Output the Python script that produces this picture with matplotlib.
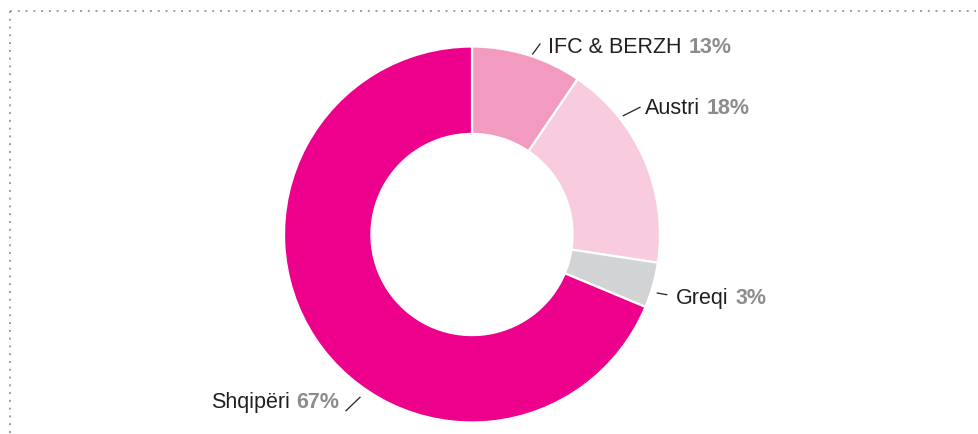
import matplotlib
matplotlib.use("Agg")
import matplotlib.pyplot as plt
from matplotlib.lines import Line2D

# Data
names = ["IFC & BERZH", "Austri", "Greqi", "Shqipëri"]
shares = [9.5, 17.9, 3.9, 68.7]          # slice sizes as drawn
pct_labels = ["13%", "18%", "3%", "67%"]  # printed percentages
colors = ["#F39AC1", "#F9CBDF", "#D1D3D4", "#EC008C"]

W, H = 979, 435
plt.rcParams['font.family'] = ['Liberation Sans', 'DejaVu Sans']

fig = plt.figure(figsize=(W / 100, H / 100), dpi=100)

def px(x, y):
    # pixel position (from top-left) -> figure fraction
    return x / W, 1 - y / H

# Donut
cx, cy, r = 472, 235.5, 188
ax = fig.add_axes([(cx - r) / W, (H - cy - r) / H, 2 * r / W, 2 * r / H])
ax.pie(shares, colors=colors, startangle=90, counterclock=False, radius=1,
       wedgeprops=dict(width=0.465, edgecolor='white', linewidth=1.6))
ax.set_xlim(-1, 1)
ax.set_ylim(-1, 1)
ax.set_aspect('equal')
ax.axis('off')

# Labels: (text x, baseline y, align, leader start, leader end)
label_pos = [
    (548, 53, 'left', (532.7, 55), (540, 45)),
    (645, 114, 'left', (623.3, 116.7), (640, 108.3)),
    (676, 304, 'left', (657.3, 294), (666.7, 295.7)),
    (339.5, 408.5, 'right', (346, 411.7), (360, 398.3)),
]
fs = 15.5
name_col = "#231F20"
pct_col = "#8A8C8E"
for name, pct, (tx, ty, ha, p0, p1) in zip(names, pct_labels, label_pos):
    fx, fy = px(tx, ty)
    if ha == 'left':
        t = fig.text(fx, fy, name, ha='left', va='baseline', fontsize=fs, color=name_col)
        plt.annotate(pct, xy=(1, 0), xycoords=t, xytext=(5, 0), textcoords='offset points',
                     ha='left', va='bottom', fontsize=fs, color=pct_col, fontweight='bold',
                     annotation_clip=False)
    else:
        t = fig.text(fx, fy, pct, ha='right', va='baseline', fontsize=fs, color=pct_col,
                     fontweight='bold')
        plt.annotate(name, xy=(0, 0), xycoords=t, xytext=(-5, 0), textcoords='offset points',
                     ha='right', va='bottom', fontsize=fs, color=name_col,
                     annotation_clip=False)
    a, b = px(*p0), px(*p1)
    fig.add_artist(Line2D([a[0], b[0]], [a[1], b[1]], transform=fig.transFigure,
                          color="#231F20", lw=0.9))

# Dotted frame (top and left)
dot = dict(transform=fig.transFigure, color="#9D9D9D", lw=1.4, linestyle=(0, (1, 3)))
x0, y0 = px(10, 11.5)
x1, _ = px(976, 11.5)
_, y1 = px(10, 435)
fig.add_artist(Line2D([x0, x1], [y0, y0], **dot))
fig.add_artist(Line2D([x0, x0], [y0, y1], **dot))

fig.savefig("out.png", dpi=100)
